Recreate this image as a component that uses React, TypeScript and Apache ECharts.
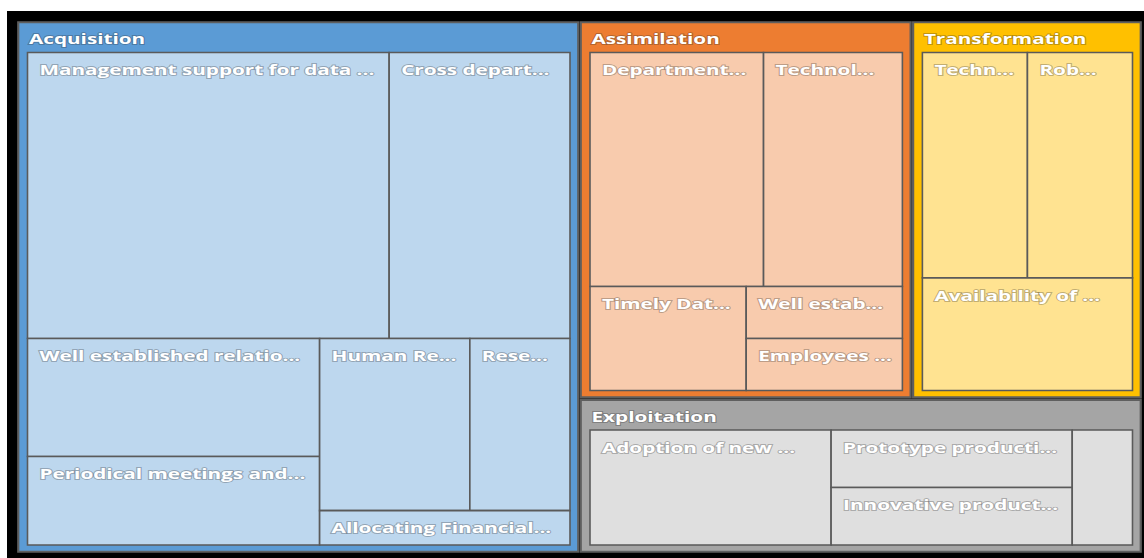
import { useEffect, useRef } from 'react';
import * as echarts from 'echarts';

// ---- data ----
const groupNames = ['Acquisition', 'Assimilation', 'Transformation', 'Exploitation'];

const acquisitionLabels = [
  'Management support for data ...',
  'Cross depart...',
  'Well established relatio...',
  'Periodical meetings and...',
  'Human Re...',
  'Rese...',
  'Allocating Financial...',
];
const acquisitionValues = [12, 6, 4, 3, 3, 2, 1];

const assimilationLabels = ['Department...', 'Technol...', 'Timely Dat...', 'Well estab...', 'Employees ...'];
const assimilationValues = [5, 4, 2, 1, 1];

const transformationLabels = ['Techn...', 'Rob...', 'Availability of ...'];
const transformationValues = [3, 3, 3];

const exploitationLabels = ['Adoption of new ...', 'Prototype producti...', 'Innovative product...', ''];
const exploitationValues = [4, 2, 2, 1];

const groupLabels = [acquisitionLabels, assimilationLabels, transformationLabels, exploitationLabels];
const groupValues = [acquisitionValues, assimilationValues, transformationValues, exploitationValues];
const groupTotals = groupValues.map((v) => v.reduce((a, b) => a + b, 0));

// ---- arrangement of the tiles (h = side by side, v = stacked) ----
type Split = number | any[];
const rootArrangement: Split = ['h', 0, ['v', ['h', 1, 2], 3]];
const groupArrangements: Split[] = [
  ['v', ['h', 0, 1], ['h', ['v', 2, 3], ['v', ['h', 4, 5], 6]]],
  ['v', ['h', 0, 1], ['h', 2, ['v', 3, 4]]],
  ['v', ['h', 0, 1], 2],
  ['h', 0, ['v', 1, 2], 3],
];

// ---- styles ----
const groupColors = ['#5B9BD5', '#ED7D31', '#FFC000', '#A5A5A5'];
const leafColors = ['#BDD7EE', '#F8CBAD', '#FFE391', '#DFDFDF'];
const lineColor = '#5a5a5a';
const FONT = '"Open Sans", "DejaVu Sans", sans-serif';
const STRETCH = 1.38;

function sumOf(node: Split, values: number[]): number {
  if (typeof node === 'number') return values[node];
  return node.slice(1).reduce((s: number, c: Split) => s + sumOf(c, values), 0);
}

function arrange(
  node: Split,
  values: number[],
  x0: number,
  y0: number,
  x1: number,
  y1: number,
  out: number[][]
) {
  if (typeof node === 'number') {
    out[node] = [x0, y0, x1, y1];
    return;
  }
  const dir = node[0];
  const kids = node.slice(1) as Split[];
  const total = sumOf(node, values);
  let pos = dir === 'h' ? x0 : y0;
  const span = dir === 'h' ? x1 - x0 : y1 - y0;
  kids.forEach((k) => {
    const len = (span * sumOf(k, values)) / total;
    if (dir === 'h') arrange(k, values, pos, y0, pos + len, y1, out);
    else arrange(k, values, x0, pos, x1, pos + len, out);
    pos += len;
  });
}

const groupRects: number[][] = [];
arrange(rootArrangement, groupTotals, 0, 0, 1, 1, groupRects);
const seriesData = groupNames.map((name, i) => ({ name, value: groupRects[i] }));

function label(text: string, x: number, y: number) {
  return {
    type: 'text',
    x,
    y,
    scaleX: STRETCH,
    silent: true,
    style: {
      text,
      x: 0,
      y: 0,
      fill: '#ffffff',
      stroke: 'rgba(40,40,40,0.3)',
      lineWidth: 1.8,
      font: `bold 15px ${FONT}`,
      verticalAlign: 'middle',
      align: 'left',
      shadowColor: 'rgba(0,0,0,0.7)',
      shadowBlur: 4,
      shadowOffsetX: 1,
      shadowOffsetY: 1,
    },
  };
}

export default function App() {
  const ref = useRef<HTMLDivElement>(null);
  useEffect(() => {
    if (!ref.current) return;
    const chart = echarts.init(ref.current, null, { renderer: 'svg' });
    chart.setOption({
      animation: false,
      backgroundColor: '#ffffff',
      graphic: [
        {
          type: 'rect',
          z: 0,
          shape: { x: 7, y: 11, width: 1140, height: 550 },
          style: { fill: '#000000' },
        },
      ],
      grid: { left: 17, top: 21, right: 2, bottom: 5 },
      xAxis: { type: 'value', min: 0, max: 1, show: false },
      yAxis: { type: 'value', min: 0, max: 1, inverse: true, show: false },
      series: [
        {
          type: 'custom',
          z: 2,
          data: seriesData,
          encode: { x: [0, 2], y: [1, 3] },
          renderItem: (params: any, api: any) => {
            const i = params.dataIndex;
            const p0 = api.coord([api.value(0), api.value(1)]);
            const p1 = api.coord([api.value(2), api.value(3)]);
            const X0 = p0[0];
            const Y0 = p0[1];
            const X1 = p1[0];
            const Y1 = p1[1];
            const children: any[] = [];
            children.push({
              type: 'rect',
              shape: { x: X0 + 1.25, y: Y0 + 1.25, width: X1 - X0 - 2.5, height: Y1 - Y0 - 2.5 },
              style: { fill: groupColors[i], stroke: '#5f5f5f', lineWidth: 2.2 },
            });
            children.push(label(groupNames[i], X0 + 12, Y0 + 17.5));
            const leaves: number[][] = [];
            arrange(groupArrangements[i], groupValues[i], X0 + 10.5, Y0 + 31.5, X1 - 9.5, Y1 - 8, leaves);
            leaves.forEach((r) => {
              children.push({
                type: 'rect',
                shape: { x: r[0], y: r[1], width: r[2] - r[0], height: r[3] - r[1] },
                style: { fill: leafColors[i], stroke: lineColor, lineWidth: 1.6 },
              });
            });
            leaves.forEach((r, j) => {
              const t = groupLabels[i][j];
              if (t) children.push(label(t, r[0] + 12, r[1] + 17));
            });
            return { type: 'group', children };
          },
        },
      ],
    });
    return () => chart.dispose();
  }, []);
  return (
    <div
      ref={ref}
      style={{ position: 'absolute', left: 0, top: 0, width: 1144, height: 558 }}
    />
  );
}
